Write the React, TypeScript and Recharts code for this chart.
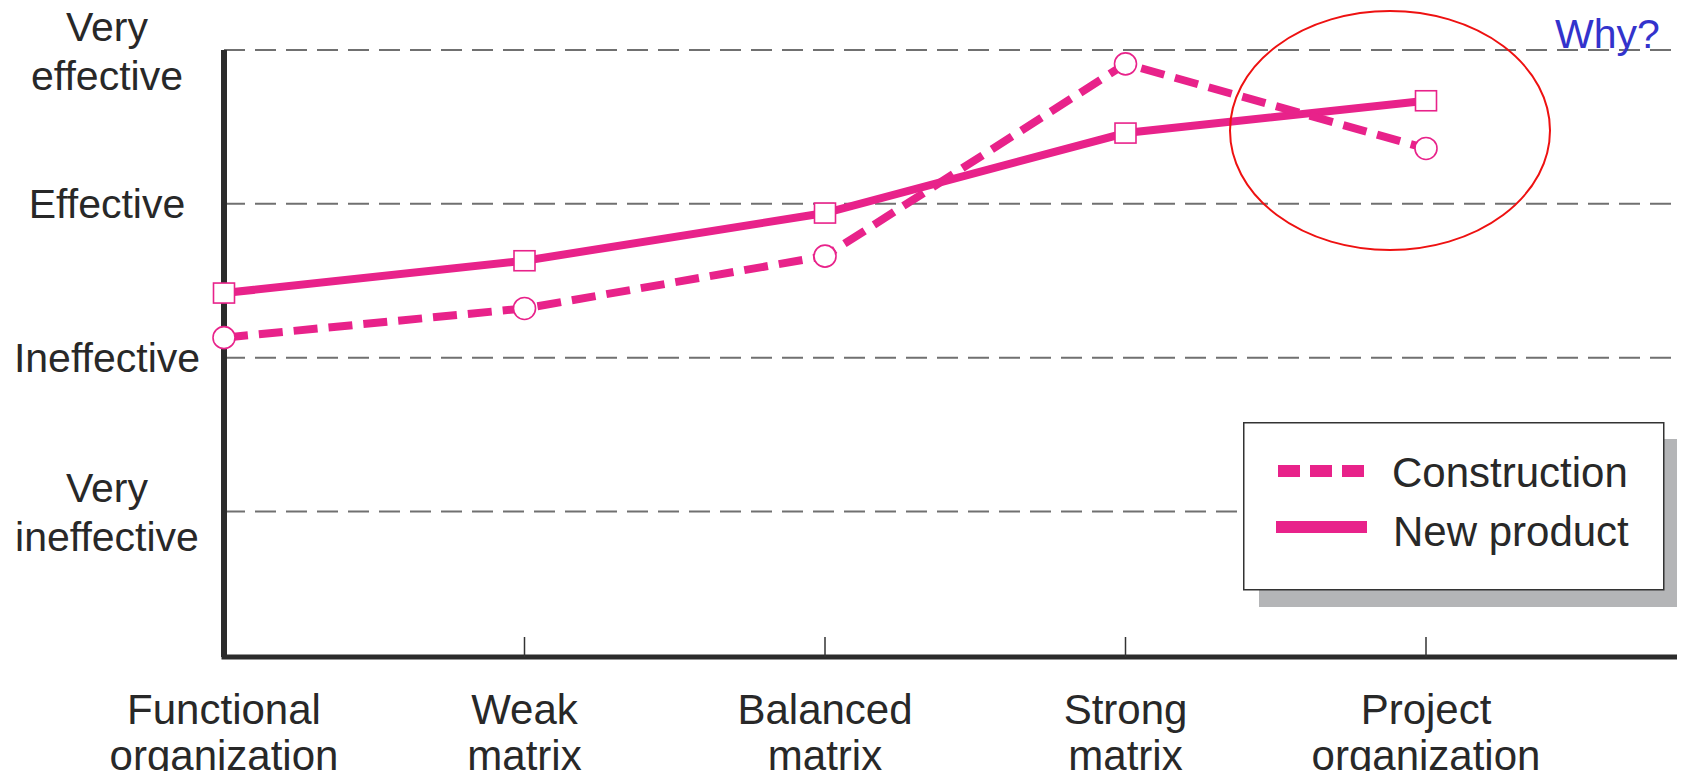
import React from 'react';
import { LineChart, Line, XAxis, YAxis, CartesianGrid, Legend } from 'recharts';

const categories = ['Functional organization', 'Weak matrix', 'Balanced matrix', 'Strong matrix', 'Project organization'];
const xTickLines: string[][] = [
  ['Functional', 'organization'],
  ['Weak', 'matrix'],
  ['Balanced', 'matrix'],
  ['Strong', 'matrix'],
  ['Project', 'organization'],
];
const construction = [2.13, 2.32, 2.66, 3.91, 3.36];
const newProduct = [2.42, 2.63, 2.94, 3.46, 3.67];
const yTicks = [1, 2, 3, 4];
const yTickLabels: string[][] = [['Very', 'ineffective'], ['Ineffective'], ['Effective'], ['Very', 'effective']];
const seriesNames = ['Construction', 'New product'];
const annotation = 'Why?';

const data = categories.map((c, i) => ({ org: c, construction: construction[i], newProduct: newProduct[i] }));

const PINK = '#E8228A';
const TEXT = '#282828';
const FONT = '"Liberation Sans", Arial, Helvetica, sans-serif';
const W = 1685;
const H = 779;

const XTick = (props: any) => {
  const { x, y, payload } = props;
  const idx = categories.indexOf(payload.value);
  const lines = xTickLines[idx] || [payload.value];
  return (
    <g>
      {idx > 0 && <line x1={x} x2={x} y1={y} y2={y - 20} stroke="#333" strokeWidth={1.5} />}
      <text x={x} y={y + 67} textAnchor="middle" fontSize={42} fontFamily={FONT} fill={TEXT}>{lines[0]}</text>
      {lines[1] && (
        <text x={x} y={y + 113} textAnchor="middle" fontSize={42} fontFamily={FONT} fill={TEXT}>{lines[1]}</text>
      )}
    </g>
  );
};

const YTick = (props: any) => {
  const { x, y, payload } = props;
  const idx = yTicks.indexOf(payload.value);
  const lines = yTickLabels[idx] || [];
  const cx = x - 117;
  if (lines.length === 1) {
    return (
      <text x={cx} y={y + 14} textAnchor="middle" fontSize={41} fontFamily={FONT} fill={TEXT}>{lines[0]}</text>
    );
  }
  return (
    <g>
      <text x={cx} y={y - 9} textAnchor="middle" fontSize={41} fontFamily={FONT} fill={TEXT}>{lines[0]}</text>
      <text x={cx} y={y + 40} textAnchor="middle" fontSize={41} fontFamily={FONT} fill={TEXT}>{lines[1]}</text>
    </g>
  );
};

const CircleDot = (props: any) => {
  const { cx, cy } = props;
  if (cx == null || cy == null) return null;
  return <circle cx={cx} cy={cy} r={11} fill="#fff" stroke={PINK} strokeWidth={1.6} />;
};

const SquareDot = (props: any) => {
  const { cx, cy } = props;
  if (cx == null || cy == null) return null;
  return <rect x={cx - 10.5} y={cy - 10} width={21} height={20} fill="#fff" stroke={PINK} strokeWidth={1.6} />;
};

const renderLegend = (props: any) => {
  const payload = props.payload || [];
  const find = (key: string) => payload.find((p: any) => p.dataKey === key);
  const c = find('construction');
  const n = find('newProduct');
  return (
    <svg width={440} height={190} style={{ display: 'block', overflow: 'visible' }}>
      <rect x={16} y={17} width={422} height={168} fill="#b4b5b7" />
      <rect x={0.75} y={0.75} width={420} height={167} fill="#fff" stroke="#333" strokeWidth={1.5} />
      <line x1={35} x2={121} y1={49} y2={49} stroke={c ? c.color : PINK} strokeWidth={12} strokeDasharray="22 10" />
      <line x1={33} x2={124} y1={105} y2={105} stroke={n ? n.color : PINK} strokeWidth={12} />
      <text x={149} y={65} fontSize={42} fontFamily={FONT} fill={TEXT}>{c ? c.value : seriesNames[0]}</text>
      <text x={150} y={124} fontSize={42} fontFamily={FONT} fill={TEXT}>{n ? n.value : seriesNames[1]}</text>
    </svg>
  );
};

export default function App() {
  return (
    <div style={{ position: 'relative', width: W, height: H, margin: -8 }}>
      <LineChart width={W} height={H} data={data} margin={{ top: 50, right: 3, bottom: 0, left: 0 }}>
        <CartesianGrid vertical={false} stroke="#707070" strokeWidth={2} strokeDasharray="21 10" />
        <XAxis
          dataKey="org"
          type="category"
          interval={0}
          height={122}
          padding={{ left: 0, right: 256 }}
          tickLine={false}
          tickSize={0}
          tickMargin={0}
          tick={<XTick />}
          axisLine={{ stroke: '#2b2b2b', strokeWidth: 5, strokeLinecap: 'square' }}
        />
        <YAxis
          type="number"
          domain={[0.054, 4]}
          ticks={yTicks}
          interval={0}
          allowDataOverflow
          width={224}
          tickLine={false}
          tickSize={0}
          tickMargin={0}
          tick={<YTick />}
          axisLine={{ stroke: '#2b2b2b', strokeWidth: 6 }}
        />
        <Legend
          layout="vertical"
          align="center"
          verticalAlign="middle"
          content={renderLegend}
          wrapperStyle={{ left: 1243, top: 422, width: 440, height: 190 }}
        />
        <Line
          dataKey="newProduct"
          name={seriesNames[1]}
          stroke={PINK}
          strokeWidth={8}
          dot={<SquareDot />}
          activeDot={false}
          isAnimationActive={false}
        />
        <Line
          dataKey="construction"
          name={seriesNames[0]}
          stroke={PINK}
          strokeWidth={8}
          strokeDasharray="24 11"
          dot={<CircleDot />}
          activeDot={false}
          isAnimationActive={false}
        />
      </LineChart>
      <svg width={W} height={H} style={{ position: 'absolute', left: 0, top: 0, pointerEvents: 'none' }}>
        <ellipse cx={1390} cy={130.5} rx={160} ry={119.5} fill="none" stroke="#ee1111" strokeWidth={2} />
        <text x={1555} y={48} fontSize={41} fontFamily={FONT} fill="#3333CC">{annotation}</text>
      </svg>
    </div>
  );
}
